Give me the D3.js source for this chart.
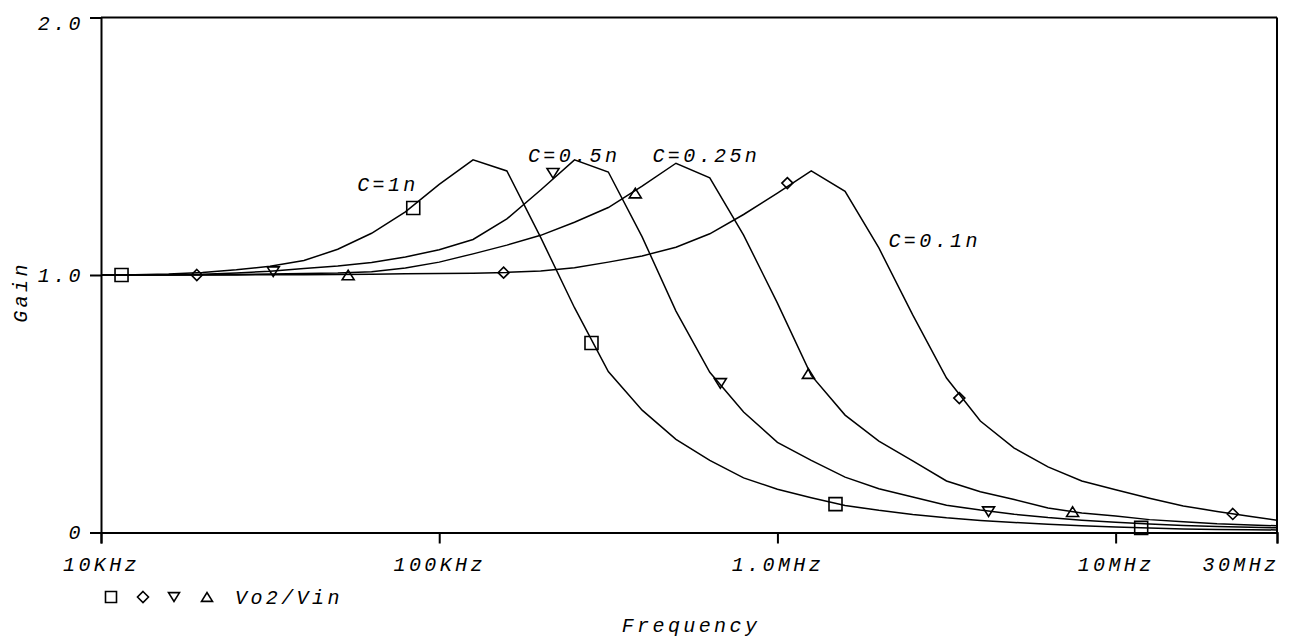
<!DOCTYPE html>
<html>
<head>
<meta charset="utf-8">
<script src="https://cdn.jsdelivr.net/npm/d3@7"></script>
<style>
  html, body { margin: 0; padding: 0; background: #fff; }
  svg text { font-family: "Liberation Mono", "DejaVu Sans Mono", monospace; font-style: italic; fill: #000; }
</style>
</head>
<body>
<svg id="chart" width="1295" height="640"></svg>
<script>
// ---------- data ----------
const freqs = [1e4, 1.259e4, 1.585e4, 1.995e4, 2.512e4, 3.162e4, 3.981e4, 5.012e4, 6.31e4, 7.943e4,
               1e5, 1.259e5, 1.585e5, 1.995e5, 2.512e5, 3.162e5, 3.981e5, 5.012e5, 6.31e5, 7.943e5,
               1e6, 1.259e6, 1.585e6, 1.995e6, 2.512e6, 3.162e6, 3.981e6, 5.012e6, 6.31e6, 7.943e6,
               1e7, 1.259e7, 1.585e7, 1.995e7, 2.512e7, 3e7];

const gainC1n = [1.000, 1.001, 1.004, 1.010, 1.020, 1.034, 1.056, 1.100, 1.162, 1.245,
                 1.352, 1.447, 1.404, 1.146, 0.873, 0.625, 0.475, 0.362, 0.280, 0.212,
                 0.168, 0.135, 0.105, 0.086, 0.070, 0.057, 0.047, 0.039, 0.032, 0.026,
                 0.021, 0.017, 0.014, 0.012, 0.011, 0.010];

const gainC05n = [1.000, 1.000, 1.001, 1.003, 1.008, 1.015, 1.025, 1.035, 1.049, 1.070,
                  1.098, 1.138, 1.218, 1.330, 1.447, 1.400, 1.148, 0.860, 0.622, 0.468,
                  0.350, 0.280, 0.215, 0.170, 0.138, 0.106, 0.087, 0.071, 0.058, 0.048,
                  0.040, 0.033, 0.027, 0.023, 0.020, 0.018];

const gainC025n = [1.000, 1.000, 1.000, 1.001, 1.002, 1.004, 1.006, 1.008, 1.013, 1.027,
                   1.050, 1.082, 1.116, 1.154, 1.205, 1.262, 1.345, 1.434, 1.377, 1.155,
                   0.891, 0.610, 0.456, 0.355, 0.278, 0.200, 0.158, 0.128, 0.095, 0.076,
                   0.064, 0.050, 0.042, 0.034, 0.029, 0.026];

const gainC01n = [1.000, 1.000, 1.000, 1.000, 1.000, 1.001, 1.001, 1.002, 1.003, 1.005,
                  1.006, 1.007, 1.010, 1.016, 1.028, 1.050, 1.074, 1.108, 1.160, 1.235,
                  1.318, 1.404, 1.325, 1.105, 0.845, 0.600, 0.433, 0.328, 0.255, 0.200,
                  0.166, 0.133, 0.103, 0.082, 0.062, 0.048];

// marker positions (frequency, gain) per trace
const markFreqC1n  = [1.15e4, 8.38e4, 2.82e5, 1.485e6, 1.19e7];
const markGainC1n  = [1.000, 1.260, 0.736, 0.110, 0.018];
const markFreqC05n = [3.23e4, 2.17e5, 6.78e5, 4.21e6];
const markGainC05n = [1.013, 1.395, 0.579, 0.081];
const markFreqC025n = [5.38e4, 3.80e5, 1.235e6, 7.46e6];
const markGainC025n = [1.000, 1.318, 0.617, 0.081];
const markFreqC01n = [1.92e4, 1.55e5, 1.07e6, 3.45e6, 2.22e7];
const markGainC01n = [1.000, 1.009, 1.357, 0.522, 0.072];

// curve labels: start position (frequency, gain of baseline)
const seriesNames = ["C=1n", "C=0.5n", "C=0.25n", "C=0.1n"];
const seriesLabelFreq = [5.72e4, 1.83e5, 4.27e5, 2.13e6];
const seriesLabelGain = [1.326, 1.439, 1.439, 1.109];

const xTickValues = [1e4, 1e5, 1e6, 1e7, 3e7];
const xTickLabels = ["10KHz", "100KHz", "1.0MHz", "10MHz", "30MHz"];
const yTickValues = [0, 1, 2];
const yTickLabels = ["0", "1.0", "2.0"];
const legendText = "Vo2/Vin";
const xTitle = "Frequency";
const yTitle = "Gain";

// ---------- drawing ----------
const svg = d3.select("#chart");
svg.append("rect").attr("width", 1295).attr("height", 640).attr("fill", "#fff");

const x = d3.scaleLog().domain([1e4, 3e7]).range([101, 1277]);
const y = d3.scaleLinear().domain([0, 2]).range([532.5, 17.5]);

const FONT = 20, LS = 3.4;

// axes
const xAxis = d3.axisBottom(x).tickValues(xTickValues)
  .tickFormat((d, i) => xTickLabels[i]).tickSize(11).tickSizeOuter(11).tickPadding(13);
const gx = svg.append("g").attr("transform", `translate(0,${y(0)})`).call(xAxis);
gx.selectAll("path, line").attr("stroke", "#000").attr("stroke-width", 2);
gx.selectAll("text").attr("font-size", FONT).attr("letter-spacing", LS)
  .attr("font-family", null).attr("fill", "#000");
gx.selectAll(".tick text").filter((d, i) => i === xTickValues.length - 1)
  .attr("text-anchor", "end").attr("dx", 2);

const yAxis = d3.axisLeft(y).tickValues(yTickValues)
  .tickFormat((d, i) => yTickLabels[i]).tickSize(11).tickSizeOuter(0).tickPadding(6);
const gy = svg.append("g").attr("transform", `translate(${x(1e4)},0)`).call(yAxis);
gy.selectAll("path, line").attr("stroke", "#000").attr("stroke-width", 2);
gy.selectAll("text").attr("font-size", FONT).attr("letter-spacing", LS)
  .attr("font-family", null).attr("fill", "#000").attr("dy", "0.32em");
gy.selectAll(".tick text").filter(d => d === 2).attr("dy", "0.6em");

// top and right frame
svg.append("line").attr("x1", x(1e4)).attr("x2", x(3e7)).attr("y1", y(2)).attr("y2", y(2))
  .attr("stroke", "#000").attr("stroke-width", 2);
svg.append("line").attr("x1", x(3e7)).attr("x2", x(3e7)).attr("y1", y(2)).attr("y2", y(0))
  .attr("stroke", "#000").attr("stroke-width", 2);

// curves
const gains = [gainC1n, gainC05n, gainC025n, gainC01n];
const line = d3.line().x(d => x(d[0])).y(d => y(d[1]));
const plot = svg.append("g");
gains.forEach(g => {
  plot.append("path")
    .attr("d", line(freqs.map((f, i) => [f, g[i]])))
    .attr("fill", "none").attr("stroke", "#000").attr("stroke-width", 1.5);
});

// marker shapes
function markerPath(type, s) {
  const h = s / 2;
  if (type === "square") return `M${-h},${-h}H${h}V${h}H${-h}Z`;
  if (type === "diamond") return `M0,${-h}L${h},0L0,${h}L${-h},0Z`;
  if (type === "down") return `M${-h},${-h * 0.8}H${h}L0,${h * 0.8}Z`;
  return `M${-h},${h * 0.8}H${h}L0,${-h * 0.8}Z`;
}
const markTypes = ["square", "down", "up", "diamond"];
const markSizes = [13, 12, 12, 11];
const markF = [markFreqC1n, markFreqC05n, markFreqC025n, markFreqC01n];
const markG = [markGainC1n, markGainC05n, markGainC025n, markGainC01n];
markF.forEach((fs, s) => {
  fs.forEach((f, i) => {
    plot.append("path").attr("d", markerPath(markTypes[s], markSizes[s]))
      .attr("transform", `translate(${x(f)},${y(markG[s][i])})`)
      .attr("fill", "none").attr("stroke", "#000").attr("stroke-width", 1.6);
  });
});

// curve labels
seriesNames.forEach((n, i) => {
  svg.append("text").attr("x", x(seriesLabelFreq[i])).attr("y", y(seriesLabelGain[i]))
    .attr("font-size", FONT).attr("letter-spacing", LS).attr("text-anchor", "start").text(n);
});

// legend
const legendOrder = ["square", "diamond", "down", "up"];
const legendX = [111, 143, 174, 207];
legendOrder.forEach((t, i) => {
  svg.append("path").attr("d", markerPath(t, 11))
    .attr("transform", `translate(${legendX[i]},597)`)
    .attr("fill", "none").attr("stroke", "#000").attr("stroke-width", 1.6);
});
svg.append("text").attr("x", 235).attr("y", 604).attr("font-size", FONT)
  .attr("letter-spacing", LS).text(legendText);

// titles
svg.append("text").attr("x", 691).attr("y", 632).attr("text-anchor", "middle")
  .attr("font-size", FONT).attr("letter-spacing", LS).text(xTitle);
svg.append("text").attr("transform", "translate(27,292) rotate(-90)").attr("text-anchor", "middle")
  .attr("font-size", FONT).attr("letter-spacing", LS).text(yTitle);
</script>
</body>
</html>
